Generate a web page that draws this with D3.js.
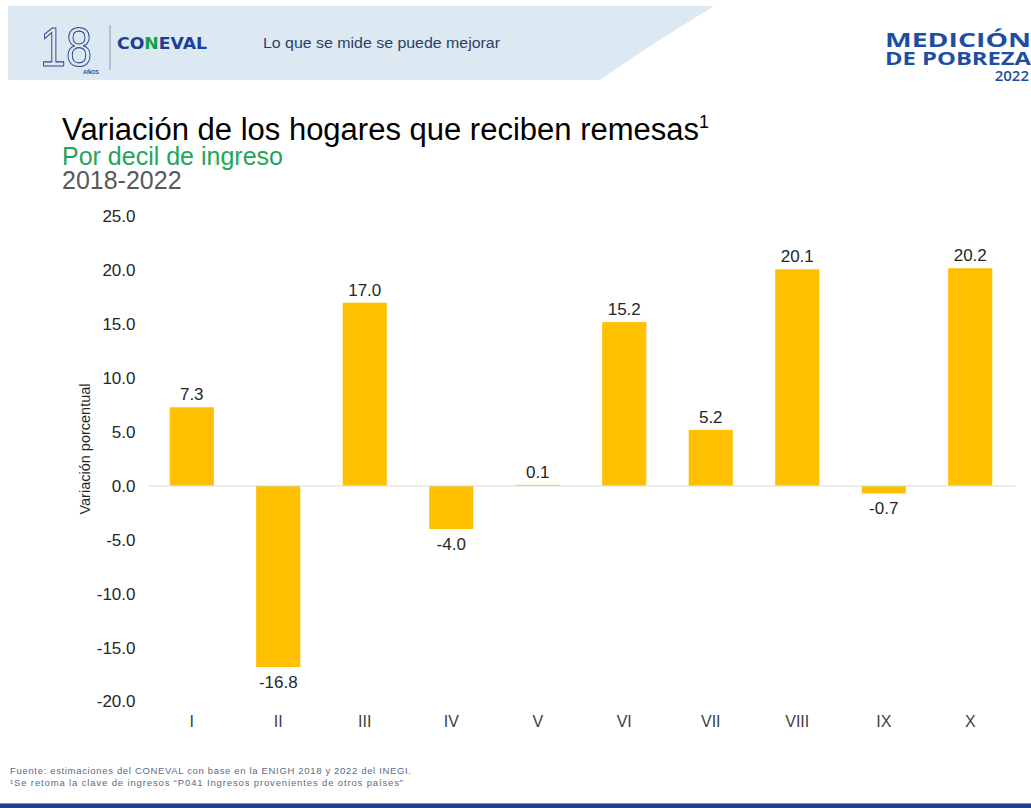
<!DOCTYPE html>
<html lang="es">
<head>
<meta charset="utf-8">
<script src="https://cdn.jsdelivr.net/npm/d3@7"></script>
<style>
  html, body { margin: 0; padding: 0; background: #fff; }
  svg { display: block; font-family: "Liberation Sans", Arial, sans-serif; }
</style>
</head>
<body>
<svg id="chart" width="1031" height="808"></svg>
<script>
// ── 데이터 ────────────────────────────────────────────────
const deciles  = ["I", "II", "III", "IV", "V", "VI", "VII", "VIII", "IX", "X"];
const variacion = [7.3, -16.8, 17.0, -4.0, 0.1, 15.2, 5.2, 20.1, -0.7, 20.2];
const yTicks   = [25, 20, 15, 10, 5, 0, -5, -10, -15, -20];

// ── 레이아웃 ──────────────────────────────────────────────
const W = 1031, H = 808;
const PLOT_L = 148.5, PLOT_R = 1013.5;
const Y_TOP  = 216.5, Y_BOT = 701.5;   // 25 → -20
const BAR_COLOR = "#FFC000";

// 하이픈 마이너스 사용 (엑셀 스타일)
const fmt = d3.formatLocale({ decimal: ".", thousands: ",", grouping: [3], currency: ["", ""], minus: "-" }).format(".1f");

const svg = d3.select("#chart");

// ── 헤더 ──────────────────────────────────────────────────
const header = svg.append("g");
header.append("path")
    .attr("d", "M8,6 L714,6 C695,18 650,45 600,80 L8,80 Z")
    .attr("fill", "#dce8f2");

// 18 años
header.append("text")
    .attr("x", 40).attr("y", 66)
    .attr("font-size", 56).attr("font-weight", 300)
    .attr("fill", "none").attr("stroke", "#2b4a8f").attr("stroke-width", 1.1)
    .attr("textLength", 52).attr("lengthAdjust", "spacingAndGlyphs")
    .text("18");
header.append("text")
    .attr("x", 83).attr("y", 74)
    .attr("font-size", 5.5).attr("font-weight", "bold").attr("fill", "#2b4a8f")
    .text("AÑOS");
header.append("line")
    .attr("x1", 110).attr("x2", 110).attr("y1", 25).attr("y2", 70)
    .attr("stroke", "#8a9bbd").attr("stroke-width", 1);

// CONEVAL
const con = header.append("text")
    .attr("x", 117).attr("y", 49)
    .attr("font-family", "DejaVu Sans")
    .attr("font-size", 16).attr("font-weight", "bold")
    .attr("textLength", 90).attr("lengthAdjust", "spacingAndGlyphs");
con.append("tspan").attr("fill", "#1d3f96").text("CO");
con.append("tspan").attr("fill", "#13a04a").text("N");
con.append("tspan").attr("fill", "#1d3f96").text("EVAL");

header.append("text")
    .attr("x", 263).attr("y", 48)
    .attr("font-size", 14).attr("fill", "#2a3f66")
    .attr("textLength", 237).attr("lengthAdjust", "spacingAndGlyphs")
    .text("Lo que se mide se puede mejorar");

// MEDICIÓN DE POBREZA 2022
const logo = svg.append("g").attr("fill", "#1f4ea1").attr("font-weight", "bold")
    .attr("font-family", "\"Open Sans\", \"Liberation Sans\", sans-serif");
logo.append("text").attr("x", 1031).attr("y", 47).attr("text-anchor", "end")
    .attr("font-size", 20).attr("textLength", 146).attr("lengthAdjust", "spacingAndGlyphs")
    .text("MEDICIÓN");
logo.append("text").attr("x", 1031).attr("y", 65).attr("text-anchor", "end")
    .attr("font-size", 18).attr("textLength", 146).attr("lengthAdjust", "spacingAndGlyphs")
    .text("DE POBREZA");
logo.append("text").attr("x", 1029).attr("y", 81).attr("text-anchor", "end")
    .attr("font-size", 15).attr("font-weight", 600)
    .text("2022");

// ── 제목 ──────────────────────────────────────────────────
const title = svg.append("text")
    .attr("x", 62).attr("y", 140)
    .attr("font-size", 31).attr("fill", "#000");
title.append("tspan").text("Variación de los hogares que reciben remesas");
title.append("tspan").attr("font-size", 18).attr("dy", -12).text("1");

svg.append("text")
    .attr("x", 62).attr("y", 165)
    .attr("font-size", 25).attr("fill", "#22a55a")
    .text("Por decil de ingreso");
svg.append("text")
    .attr("x", 62).attr("y", 189)
    .attr("font-size", 25).attr("fill", "#595959")
    .text("2018-2022");

// ── 스케일 ────────────────────────────────────────────────
const x = d3.scaleBand()
    .domain(deciles)
    .range([PLOT_L, PLOT_R])
    .paddingInner(0.49)
    .paddingOuter(0.245);

const y = d3.scaleLinear()
    .domain([-20, 25])
    .range([Y_BOT, Y_TOP]);

// ── Y축 ───────────────────────────────────────────────────
const yAxis = svg.append("g")
    .attr("transform", `translate(${PLOT_L - 13},0)`)
    .call(d3.axisLeft(y).tickValues(yTicks).tickSize(0).tickPadding(0).tickFormat(fmt));
yAxis.select(".domain").remove();
yAxis.selectAll("text")
    .attr("font-family", "\"Liberation Sans\", Arial, sans-serif")
    .attr("font-size", 17).attr("fill", "#262626");

svg.append("text")
    .attr("transform", "translate(90,449) rotate(-90)")
    .attr("text-anchor", "middle")
    .attr("font-size", 14.5).attr("fill", "#262626")
    .text("Variación porcentual");

// ── 막대 ──────────────────────────────────────────────────
svg.append("g")
    .selectAll("rect")
    .data(variacion)
    .join("rect")
    .attr("x", (d, i) => x(deciles[i]))
    .attr("width", x.bandwidth())
    .attr("y", d => y(Math.max(0, d)))
    .attr("height", d => Math.max(1, Math.abs(y(d) - y(0))))
    .attr("fill", BAR_COLOR);

// 0 기준선
svg.append("line")
    .attr("x1", PLOT_L).attr("x2", PLOT_R + 2)
    .attr("y1", y(0)).attr("y2", y(0))
    .attr("stroke", "#d9d9d9").attr("stroke-width", 1);

// ── 값 라벨 ───────────────────────────────────────────────
svg.append("g")
    .selectAll("text")
    .data(variacion)
    .join("text")
    .attr("x", (d, i) => x(deciles[i]) + x.bandwidth() / 2)
    .attr("y", d => d >= 0 ? y(d) - 7 : y(d) + 21)
    .attr("text-anchor", "middle")
    .attr("font-size", 17).attr("fill", "#262626")
    .text(d => fmt(d));

// ── X축 (카테고리) ───────────────────────────────────────
const xAxis = svg.append("g")
    .attr("transform", `translate(0,${Y_BOT + 14})`)
    .call(d3.axisBottom(x).tickSize(0).tickPadding(0));
xAxis.select(".domain").remove();
xAxis.selectAll("text")
    .attr("font-family", "\"Liberation Sans\", Arial, sans-serif")
    .attr("font-size", 16).attr("fill", "#404040");

// ── 하단 주석 ─────────────────────────────────────────────
const foot = svg.append("g").attr("font-size", 9.5).attr("fill", "#5b6b84");
foot.append("text").attr("x", 10).attr("y", 774)
    .attr("textLength", 401).attr("lengthAdjust", "spacing")
    .text("Fuente: estimaciones del CONEVAL con base en la ENIGH 2018 y 2022 del INEGI.");
foot.append("text").attr("x", 10).attr("y", 786)
    .attr("textLength", 393).attr("lengthAdjust", "spacing")
    .text("¹Se retoma la clave de ingresos “P041 Ingresos provenientes de otros países”");

svg.append("rect").attr("x", 0).attr("y", 803).attr("width", W).attr("height", 5).attr("fill", "#1f428f");
svg.append("rect").attr("x", 0).attr("y", 803).attr("width", W).attr("height", 1).attr("fill", "#6f8fc6");
</script>
</body>
</html>
